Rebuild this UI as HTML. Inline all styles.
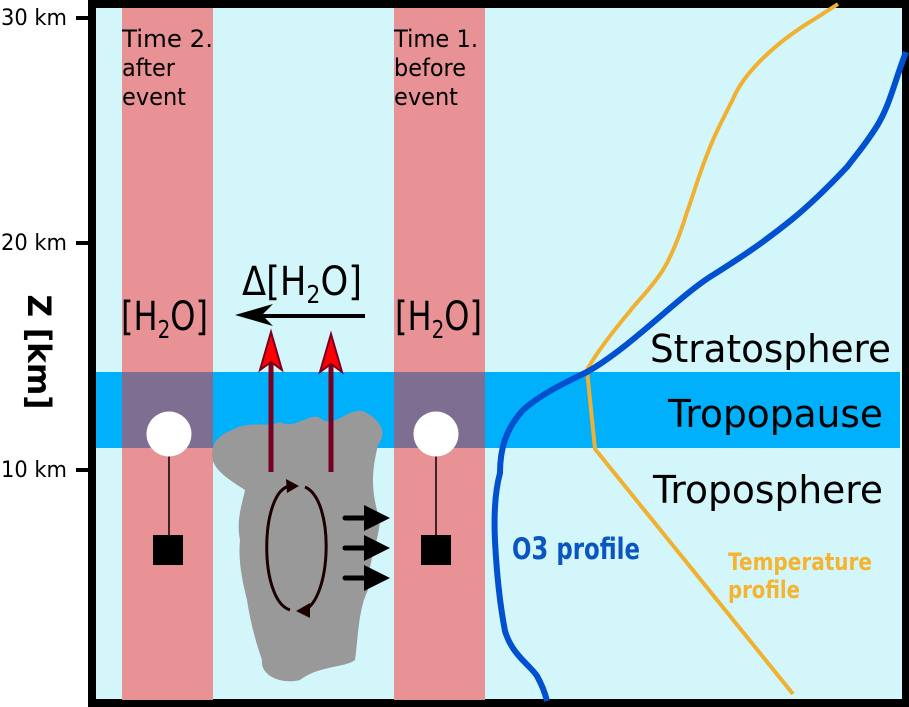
<!DOCTYPE html>
<html><head><meta charset="utf-8"><style>
html,body{margin:0;padding:0;background:#fff;}
svg{display:block;font-family:"DejaVu Sans","Liberation Sans",sans-serif;}
</style></head><body>
<svg width="909" height="707" viewBox="0 0 909 707" xmlns="http://www.w3.org/2000/svg">
<rect x="92" y="4" width="814" height="699" fill="#d3f6fb" stroke="#000" stroke-width="8"/>
<rect x="122" y="8" width="91" height="692" fill="#e89296"/>
<rect x="394" y="8" width="91" height="692" fill="#e89296"/>
<rect x="96" y="372" width="804" height="76" fill="#00b0fa"/>
<rect x="122" y="372" width="91" height="76" fill="#7e6e92"/>
<rect x="394" y="372" width="91" height="76" fill="#7e6e92"/>
<g stroke="#000" stroke-width="4"><line x1="76" y1="18" x2="90" y2="18"/><line x1="76" y1="243" x2="90" y2="243"/><line x1="76" y1="470" x2="90" y2="470"/></g>
<g font-size="22" fill="#000"><text x="1" y="25" textLength="66" lengthAdjust="spacingAndGlyphs">30 km</text><text x="1" y="250" textLength="66" lengthAdjust="spacingAndGlyphs">20 km</text><text x="1" y="477" textLength="66" lengthAdjust="spacingAndGlyphs">10 km</text></g>
<text transform="translate(28,352) rotate(90)" font-size="32" font-weight="bold" text-anchor="middle" textLength="115" lengthAdjust="spacingAndGlyphs">Z [km]</text>
<g font-size="24">
<text x="122" y="47" textLength="91" lengthAdjust="spacingAndGlyphs">Time 2.</text><text x="122" y="76" textLength="53" lengthAdjust="spacingAndGlyphs">after</text><text x="122" y="105" textLength="64" lengthAdjust="spacingAndGlyphs">event</text>
<text x="394" y="47" textLength="84" lengthAdjust="spacingAndGlyphs">Time 1.</text><text x="394" y="76" textLength="72" lengthAdjust="spacingAndGlyphs">before</text><text x="394" y="105" textLength="64" lengthAdjust="spacingAndGlyphs">event</text></g>
<g font-size="40"><text x="121" y="330" textLength="87" lengthAdjust="spacingAndGlyphs">[H<tspan font-size="25" dy="8">2</tspan><tspan dy="-8">O]</tspan></text>
<text x="395" y="330" textLength="87" lengthAdjust="spacingAndGlyphs">[H<tspan font-size="25" dy="8">2</tspan><tspan dy="-8">O]</tspan></text>
<text x="242" y="295" textLength="120" lengthAdjust="spacingAndGlyphs">Δ[H<tspan font-size="25" dy="8">2</tspan><tspan dy="-8">O]</tspan></text></g>
<line x1="365" y1="316" x2="255" y2="316" stroke="#000" stroke-width="4"/>
<path d="M235,315 L273,304 L262,315 L273,326 z" fill="#000"/>
<path d="M232,430 C250,420 265,428 280,422 C295,430 310,412 320,418 C335,430 350,405 365,412 C380,420 388,432 378,445 C372,470 370,490 380,520 C378,545 368,560 368,590 C358,610 358,640 355,660 C345,668 320,665 300,680 C280,685 260,675 262,660 C255,640 250,620 247,600 C242,580 238,560 240,540 C236,520 242,505 245,490 C230,480 212,470 212,455 C212,440 222,434 232,430 z" fill="#999"/>
<g stroke="#780022" stroke-width="5"><line x1="271" y1="472" x2="271" y2="360"/><line x1="331" y1="472" x2="331" y2="360"/></g>
<path d="M271,332 L282,370 L271,362 L260,370 z" fill="#f00" stroke="#780022" stroke-width="2"/>
<path d="M331,334 L342,372 L331,364 L320,372 z" fill="#f00" stroke="#780022" stroke-width="2"/>
<path d="M290,486 C260,490 258,600 290,610" fill="none" stroke="#1a0000" stroke-width="3"/>
<path d="M305,487 C335,500 332,600 303,611" fill="none" stroke="#1a0000" stroke-width="3"/>
<path d="M299,486 L286,479 L287,493 z" fill="#1a0000"/>
<path d="M296,611 L310,603 L310,618 z" fill="#1a0000"/>
<g stroke="#000" stroke-width="5" stroke-linecap="round"><line x1="345" y1="518" x2="368" y2="518"/><line x1="345" y1="548" x2="368" y2="548"/><line x1="345" y1="578" x2="368" y2="578"/></g>
<path d="M364,505 L390,518 L364,531 z M364,535 L390,548 L364,561 z M364,565 L390,578 L364,591 z" fill="#000"/>
<line x1="169" y1="456" x2="169" y2="540" stroke="#000" stroke-width="1.5"/>
<line x1="436" y1="456" x2="436" y2="540" stroke="#000" stroke-width="1.5"/>
<circle cx="169" cy="434" r="22.5" fill="#fff"/><circle cx="436" cy="434" r="22.5" fill="#fff"/>
<rect x="153" y="535" width="30" height="30" fill="#000"/><rect x="421" y="535" width="30" height="30" fill="#000"/>
<path d="M838,4 L813,20 C780,40 745,70 733,99 C725,115 718,128 713,140 C700,170 695,190 687,212 C680,235 672,255 663,270 C650,290 640,298 630,311 C610,335 595,355 587,370 L595,449 L793,694" fill="none" stroke="#f0b030" stroke-width="4"/>
<path d="M906,52 C895,80 890,105 877,126 C865,145 860,150 847,167 C830,185 810,205 790,221 C760,245 740,258 713,275 C680,295 630,348 587,372 C560,385 540,395 523,410 C505,430 500,450 500,473 C494,495 494,520 495,541 C497,580 500,605 505,631 C512,655 530,665 537,676 C542,685 545,693 547,701" fill="none" stroke="#0050d0" stroke-width="6"/>
<g font-size="38" fill="#000"><text x="650" y="362" textLength="241" lengthAdjust="spacingAndGlyphs">Stratosphere</text><text x="668" y="427" textLength="215" lengthAdjust="spacingAndGlyphs">Tropopause</text><text x="653" y="503" textLength="230" lengthAdjust="spacingAndGlyphs">Troposphere</text></g>
<text x="512" y="559" font-size="29" font-weight="bold" fill="#0a55c0" textLength="128" lengthAdjust="spacingAndGlyphs">O<tspan font-size="31">3</tspan> profile</text>
<g font-size="24" font-weight="bold" fill="#f5b430"><text x="728" y="570" textLength="144" lengthAdjust="spacingAndGlyphs">Temperature</text><text x="728" y="598" textLength="72" lengthAdjust="spacingAndGlyphs">profile</text></g>
</svg>
</body></html>
